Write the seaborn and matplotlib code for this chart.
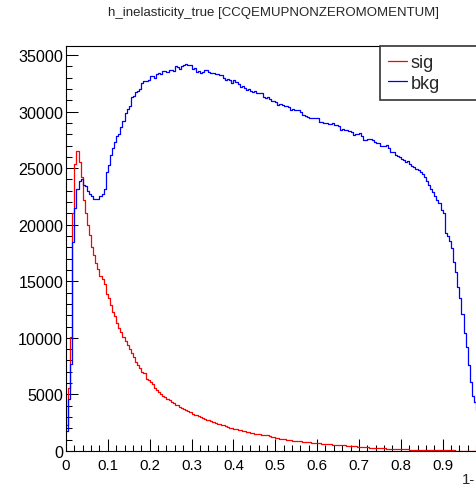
import numpy as np
import pandas as pd
import matplotlib
matplotlib.use("Agg")
import matplotlib.pyplot as plt
from matplotlib.lines import Line2D
from matplotlib.ticker import MultipleLocator
import seaborn as sns

title = "h_inelasticity_true [CCQEMUPNONZEROMOMENTUM]"
x_label = "1-"
series_names = ["sig", "bkg"]
series_colors = ["#ff0000", "#0000ff"]
bin_width = 0.005

sig = [2300, 5600, 10100, 21000, 25400, 26500, 25500, 24200, 22200, 21000,
       20000, 19100, 18000, 17300, 16600, 16100, 15500, 15200, 14800, 13900,
       13500, 12900, 12300, 11900, 11300, 10900, 10500, 10100, 9700, 9350,
       9050, 8700, 8300, 7900, 7600, 7300, 7000, 6850, 6400, 6300,
       6100, 5950, 5600, 5350, 5200, 5000, 4900, 4750, 4600, 4480,
       4350, 4200, 4100, 4040, 3900, 3800, 3680, 3600, 3500, 3450,
       3300, 3200, 3150, 3050, 3000, 2900, 2860, 2750, 2700, 2620,
       2550, 2500, 2420, 2380, 2300, 2270, 2200, 2150, 2050, 2000,
       1970, 1930, 1880, 1850, 1800, 1770, 1720, 1650, 1600, 1560,
       1530, 1500, 1480, 1450, 1400, 1390, 1380, 1300, 1250, 1200,
       1150, 1120, 1080, 1060, 1020, 1000, 980, 950, 920, 900,
       880, 860, 840, 820, 800, 780, 760, 740, 730, 710,
       690, 670, 650, 630, 620, 600, 590, 570, 560, 550,
       540, 520, 510, 500, 480, 460, 440, 420, 400, 380,
       360, 350, 340, 320, 310, 300, 290, 280, 270, 260,
       250, 240, 230, 215, 200, 190, 180, 170, 165, 160,
       150, 145, 140, 135, 130, 120, 115, 110, 105, 100,
       95, 95, 90, 90, 85, 80, 78, 75, 70, 65,
       60, 60, 55, 50, 48, 45, 42, 40, 38, 35,
       32, 30, 28, 25, 22, 20, 18]

bkg = [1800, 4600, 7700, 18500, 21500, 23200, 23900, 24000, 23500, 23400,
       23000, 22700, 22500, 22300, 22250, 22300, 22500, 22700, 23200, 24700,
       25300, 26200, 26800, 27300, 27800, 28000, 28600, 29200, 29900, 30200,
       30500, 31300, 31400, 31700, 31800, 32000, 32500, 32700, 32700, 32800,
       33100, 33100, 33000, 33300, 33400, 33300, 33600, 33600, 33500, 33700,
       33700, 33600, 34000, 33900, 33800, 34000, 34100, 34200, 34150, 34100,
       33800, 33850, 33500, 33550, 33400, 33500, 33700, 33650, 33500, 33400,
       33400, 33300, 33350, 33250, 33200, 32950, 32800, 32900, 32800, 32500,
       32800, 32600, 32400, 32200, 32300, 32100, 31900, 32000, 31800, 31750,
       31800, 31600, 31650, 31600, 31300, 31200, 31300, 31150, 30900, 30900,
       30850, 30600, 30700, 30550, 30500, 30450, 30400, 30150, 30200, 30150,
       30100, 30100, 30000, 29700, 29600, 29500, 29400, 29400, 29400, 29450,
       29400, 29050, 29100, 29000, 28950, 28900, 28880, 28950, 28800, 28850,
       28700, 28400, 28500, 28350, 28400, 28300, 28150, 27950, 28000, 28050,
       28100, 27850, 27450, 27500, 27600, 27550, 27500, 27300, 27250, 27200,
       27000, 26950, 27000, 27050, 26800, 26450, 26400, 26200, 26100, 26000,
       25800, 25700, 25500, 25600, 25400, 25200, 25100, 24950, 24800, 24650,
       24500, 24250, 23900, 23500, 23200, 22900, 22500, 22200, 21900, 21300,
       21000, 19300, 19000, 18600, 17900, 16700, 15800, 14500, 13500, 12150,
       10400, 9200, 7600, 6100, 4900, 4300, 3600]

x_ticks = [0, 0.1, 0.2, 0.3, 0.4, 0.5, 0.6, 0.7, 0.8, 0.9]
x_tick_labels = ["0", "0.1", "0.2", "0.3", "0.4", "0.5", "0.6", "0.7", "0.8", "0.9"]
y_ticks = [0, 5000, 10000, 15000, 20000, 25000, 30000, 35000]
y_tick_labels = ["0", "5000", "10000", "15000", "20000", "25000", "30000", "35000"]

n_bins = len(sig)
edges = np.arange(n_bins + 1) * bin_width
centers = edges[:-1] + bin_width / 2

df = pd.concat([
    pd.DataFrame({"x": centers, "w": sig, "series": "sig"}),
    pd.DataFrame({"x": centers, "w": bkg, "series": "bkg"}),
], ignore_index=True)

sns.set_theme(style="ticks")
plt.rcParams["font.family"] = ["Liberation Sans", "DejaVu Sans"]

W, H = 477, 489
fig = plt.figure(figsize=(W / 100, H / 100), dpi=100)
fig.patch.set_facecolor("white")
ax = fig.add_axes([66 / W, 1 - 452 / H, 418.5 / W, (452 - 47) / H])
ax.set_facecolor("white")

sns.histplot(data=df, x="x", weights="w", hue="series",
             bins=n_bins, binrange=(0, float(edges[-1])),
             element="step", fill=False, palette=dict(zip(series_names, series_colors)),
             hue_order=["bkg", "sig"], legend=False, linewidth=0.9, ax=ax)

ax.set_xlim(0, 1)
ax.set_ylim(0, 35795)
ax.set_xlabel("")
ax.set_ylabel("")
ax.set_xticks(x_ticks)
ax.set_xticklabels(x_tick_labels)
ax.set_yticks(y_ticks)
ax.set_yticklabels(y_tick_labels)
ax.xaxis.set_minor_locator(MultipleLocator(0.02))
ax.yaxis.set_minor_locator(MultipleLocator(1000))
ax.tick_params(which="both", direction="in", colors="black", width=0.75,
               top=False, right=False)
ax.tick_params(which="major", length=8.6)
ax.tick_params(which="minor", length=4.3)
ax.tick_params(axis="x", which="major", labelsize=10.8, pad=5)
ax.tick_params(axis="y", which="major", labelsize=11.6, pad=2)
for s in ax.spines.values():
    s.set_color("black")
    s.set_linewidth(0.8)
    s.set_visible(True)

fig.text(274 / W, 1 - 13 / H, title, ha="center", va="center", fontsize=9.5)
fig.text(462 / W, 1 - 480 / H, x_label, ha="left", va="center", fontsize=10.8)

handles = [Line2D([], [], color=c, lw=0.9) for c in series_colors]
leg = ax.legend(handles, series_names, loc="upper left",
                bbox_to_anchor=(380 / W, 1 - 47 / H, 0.3, 0.0),
                bbox_transform=fig.transFigure, mode="expand",
                borderaxespad=0, borderpad=0.45, handlelength=1.05,
                handletextpad=0.2, labelspacing=0.2, fontsize=13,
                fancybox=False, frameon=True, framealpha=1)
leg.get_frame().set_edgecolor("#333333")
leg.get_frame().set_linewidth(1.2)

fig.savefig("out.png", dpi=100, facecolor="white")
